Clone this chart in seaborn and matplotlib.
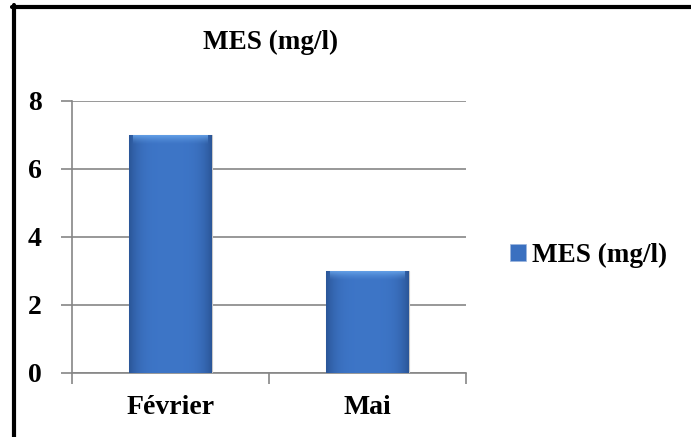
import matplotlib
matplotlib.use("Agg")
import matplotlib.pyplot as plt
import seaborn as sns
import numpy as np
import pandas as pd
from matplotlib.lines import Line2D
from matplotlib.patches import Patch

months = ["Février", "Mai"]
mes_values = [7, 3]
series_name = "MES (mg/l)"
y_ticks = [0, 2, 4, 6, 8]

sns.set_style("white")
plt.rcParams['font.family'] = ['Liberation Serif', 'DejaVu Serif']
plt.rcParams['font.weight'] = 'bold'
plt.rcParams['text.color'] = 'black'
plt.rcParams['xtick.color'] = 'black'
plt.rcParams['ytick.color'] = 'black'

df = pd.DataFrame({"mois": months, "mes": mes_values})

fig = plt.figure(figsize=(6.91, 4.37), dpi=100)
ax = fig.add_axes([0.1042, 0.1465, 0.5702, 0.6224])

base_blue = "#3a70c0"
sns.barplot(data=df, x="mois", y="mes", color=base_blue, width=0.42,
            saturation=1, ax=ax, zorder=3)

# excel-like shading on bars: darker sides, lighter top bevel
side = np.abs(np.linspace(-1, 1, 60))
dark = np.array([0.17, 0.34, 0.60])
mid = np.array([0.24, 0.46, 0.78])
img = mid[None, :] * (1 - side[:, None] ** 4) + dark[None, :] * side[:, None] ** 4
img = img[None, :, :]
light = np.array([0.42, 0.66, 0.93])
for p in ax.patches:
    x0, w, h = p.get_x(), p.get_width(), p.get_height()
    im = ax.imshow(img, extent=[x0, x0 + w, 0, h], aspect="auto", zorder=4)
    im.set_clip_path(p)
    timg = np.zeros((20, 1, 4))
    timg[:, 0, :3] = light
    timg[:, 0, 3] = np.linspace(0, 1, 20) ** 1.5 * 0.95
    bev = h - 0.3
    im2 = ax.imshow(timg, extent=[x0 + w * 0.05, x0 + w * 0.95, bev, h], aspect="auto",
                    zorder=5, origin="lower")
    im2.set_clip_path(p)
    p.set_edgecolor("#c8c8c8")
    p.set_linewidth(0.8)

ax.set_xlim(-0.5, 1.5)
ax.set_ylim(0, 8)
ax.set_yticks(y_ticks)
ax.set_xticks([-0.5, 0.5, 1.5], minor=False)
ax.set_xticklabels([])
ax.set_xticks([0, 1], minor=True)
ax.set_xticklabels(months, minor=True)
ax.tick_params(axis="x", which="minor", bottom=False, length=0, pad=16, labelsize=20, labelcolor="black")
ax.tick_params(axis="x", which="major", bottom=True, length=8, width=1.2, color="#868686", direction="out")
ax.tick_params(axis="y", left=True, length=8, width=1.2, color="#868686", direction="out", pad=14,
               labelsize=20, labelcolor="black")
for lbl in ax.get_yticklabels() + ax.get_xticklabels(minor=True):
    lbl.set_fontweight("bold")
ax.set_xlabel("")
ax.set_ylabel("")
ax.yaxis.grid(True, color="#868686", linewidth=1.2, zorder=0)
ax.set_axisbelow(True)
for s in ["top", "right"]:
    ax.spines[s].set_visible(False)
for s in ["left", "bottom"]:
    ax.spines[s].set_color("#868686")
    ax.spines[s].set_linewidth(1.2)

fig.text(0.392, 0.902, series_name, ha="center", va="center", fontsize=19.5, fontweight="bold",
         color="black")

handle = Patch(facecolor=base_blue, edgecolor="#9bb5dd", linewidth=0.5)
fig.legend([handle], [series_name], loc="center left", bbox_to_anchor=(0.703, 0.416),
           frameon=False, handlelength=0.6, handleheight=0.6,
           handletextpad=0.2, prop={"weight": "bold", "size": 19.5})

# chart frame (left and top edges visible)
fig.add_artist(Line2D([14 / 691, 14 / 691], [0, 1 - 5 / 437], color="black", linewidth=3,
                      transform=fig.transFigure))
fig.add_artist(Line2D([12 / 691, 1], [1 - 7 / 437, 1 - 7 / 437], color="black", linewidth=3,
                      transform=fig.transFigure))

fig.savefig("out.png", dpi=100)
